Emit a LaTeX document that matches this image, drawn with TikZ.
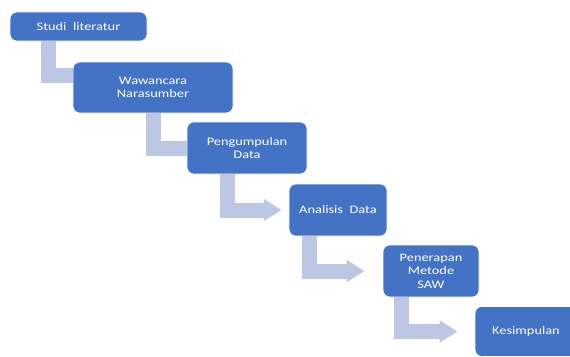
\documentclass[tikz,border=0pt]{standalone}
\usepackage{fontspec}
\setmainfont{Carlito}[FakeStretch=1.25]
\usetikzlibrary{arrows.meta}
\definecolor{boxblue}{HTML}{4472C4}
\definecolor{flowgray}{HTML}{BDC6E2}

\begin{document}
\begin{tikzpicture}[x=1pt ,y=-1pt ,
    stepbox/.style ={ rectangle ,rounded corners =7pt , fill =boxblue ,
    draw =white , line width =0.6pt , text=white , align =center ,
    font =\fontsize{11.5}{13.4}\selectfont},
    flow/.style ={ draw =flowgray , line width =15pt},
    flowhead/.style ={ flow , -{Triangle[length=18pt,width=21pt]}}
    ]
    \useasboundingbox (0,0) rectangle (570,356);

    \node[stepbox ,minimum width =137pt ,minimum height =29pt] (studi) at (78.5,26.5) {Studi\ \ literatur};
    \node[stepbox ,minimum width =160pt ,minimum height =51pt] (wawancara) at (153,87.5) {Wawancara\\Narasumber};
    \node[stepbox ,minimum width =120pt ,minimum height =52pt] (kumpul) at (247,148) {Pengumpulan\\Data};
    \node[stepbox ,minimum width =98pt ,minimum height =52pt] (analisis) at (338,210) {Analisis\ \ Data};
    \node[stepbox ,minimum width =96pt ,minimum height =52pt] (saw) at (431,271) {Penerapan\\Metode\\SAW};
    \node[stepbox ,minimum width =102pt ,minimum height =50pt] (simpul) at (526,331.5) {Kesimpulan};

    \draw[flow] ([xshift=39pt]studi.south west) |- ([yshift=12.5pt]wawancara.west);
    \draw[flow] ([xshift=81pt]wawancara.south west) |- (kumpul.west);
    \draw[flowhead ,shorten >=7pt] ([xshift=40.5pt]kumpul.south west) |- (analisis.west);
    \draw[flowhead ,shorten >=18pt] ([xshift=20.5pt]analisis.south west) |- (saw.west);
    \draw[flowhead ,shorten >=17pt] ([xshift=19pt]saw.south west) |- (simpul.west);
\end{tikzpicture}
\end{document}
